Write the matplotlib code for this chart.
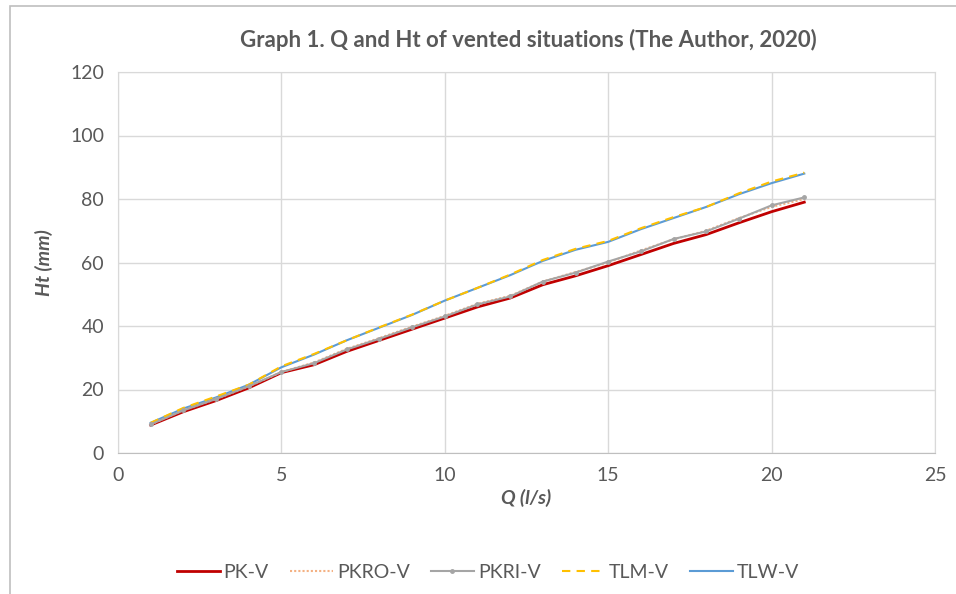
import matplotlib
matplotlib.use("Agg")
import matplotlib.pyplot as plt
from matplotlib.patches import Rectangle

# Flow rate Q (l/s) and total head Ht (mm) for each vented configuration
q = list(range(1, 22))
pk_v = [8.8, 13.0, 16.5, 20.5, 25.3, 27.8, 32.0, 35.5, 39.0, 42.5, 46.0, 48.8,
        53.0, 55.8, 59.0, 62.5, 66.0, 68.8, 72.5, 76.0, 79.0]
pkro_v = [9.0, 13.5, 17.0, 21.0, 25.5, 28.5, 32.8, 36.2, 39.8, 43.2, 47.0, 49.5,
          54.0, 57.0, 60.0, 63.8, 67.3, 70.0, 74.0, 77.5, 80.0]
pkri_v = [9.0, 13.4, 17.0, 21.0, 25.5, 28.3, 32.6, 36.0, 39.6, 43.0, 46.8, 49.3,
          54.0, 56.8, 60.3, 63.5, 67.4, 69.8, 73.8, 78.0, 80.5]
tlm_v = [9.5, 14.2, 17.8, 21.5, 27.3, 31.2, 35.5, 39.6, 43.6, 48.0, 52.0, 56.2,
         60.8, 64.3, 66.8, 70.8, 74.3, 77.5, 81.8, 85.5, 88.3]
tlw_v = [9.5, 14.0, 17.5, 21.5, 27.0, 31.0, 35.5, 39.5, 43.5, 48.0, 52.0, 56.0,
         60.5, 64.0, 66.5, 70.5, 74.0, 77.5, 81.5, 85.0, 88.0]

x_ticks = [0, 5, 10, 15, 20, 25]
y_ticks = [0, 20, 40, 60, 80, 100, 120]

plt.rcParams['font.family'] = ['Lato', 'DejaVu Sans']

fig = plt.figure(figsize=(9.56, 5.94), dpi=100)
ax = fig.add_axes([118 / 956, 1 - 453 / 594, (935 - 118) / 956, (453 - 72) / 594])

# outer chart border
fig.patches.append(Rectangle((10 / 956, -0.05), 1.2, 1 - 6 / 594 + 0.05,
                             transform=fig.transFigure, fill=False,
                             edgecolor='#BFBFBF', linewidth=1.2, zorder=0))

grid_c = '#D9D9D9'
ax.plot(q, pk_v, color='#C00000', lw=2.0, label='PK-V', zorder=3)
ax.plot(q, pkro_v, color='#F4B183', lw=1.5, ls=(0, (1, 1)), label='PKRO-V', zorder=4)
ax.plot(q, pkri_v, color='#A5A5A5', lw=1.5, marker='o', ms=2.5, label='PKRI-V', zorder=5)
ax.plot(q, tlm_v, color='#FFC000', lw=1.5, ls=(0, (4, 3)), label='TLM-V', zorder=4)
ax.plot(q, tlw_v, color='#5B9BD5', lw=1.5, label='TLW-V', zorder=3)

ax.set_xlim(0, 25)
ax.set_ylim(0, 120)
ax.set_xticks(x_ticks)
ax.set_yticks(y_ticks)
ax.grid(True, color=grid_c, lw=1.0)
ax.set_axisbelow(True)
for side in ['top', 'right', 'left']:
    ax.spines[side].set_color(grid_c)
ax.spines['bottom'].set_color('#BFBFBF')
ax.tick_params(length=0, labelsize=14, colors='#595959', pad=10)

ax.set_xlabel('Q (l/s)', fontsize=14, fontweight='bold', fontstyle='italic',
              color='#595959', labelpad=4)
ax.set_ylabel('Ht (mm)', fontsize=14, fontweight='bold', fontstyle='italic',
              color='#595959', labelpad=12)
fig.text(528 / 956, 1 - 40 / 594, 'Graph 1. Q and Ht of vented situations (The Author, 2020)',
         ha='center', va='center', fontsize=16, fontweight='bold', color='#595959')

leg = fig.legend(loc='center', bbox_to_anchor=(488 / 956, 1 - 572 / 594), ncol=5,
                 frameon=False, fontsize=14, handlelength=2.2, handletextpad=0.2,
                 columnspacing=1.1)
for t in leg.get_texts():
    t.set_color('#595959')

fig.savefig('out.png', dpi=100)
